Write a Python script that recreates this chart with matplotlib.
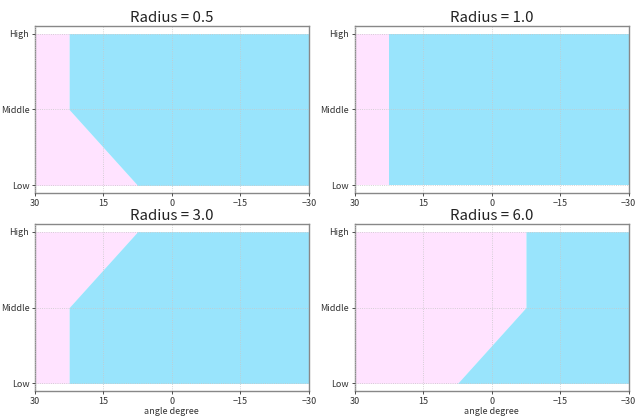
import matplotlib
matplotlib.use("Agg")
import matplotlib.pyplot as plt

plt.rcParams['font.family'] = ['Noto Sans CJK JP', 'DejaVu Sans']

levels = ["Low", "Middle", "High"]
radii = [0.5, 1.0, 3.0, 6.0]
boundaries = {
    0.5: [7.5, 22.5, 22.5],
    1.0: [22.5, 22.5, 22.5],
    3.0: [22.5, 22.5, 7.5],
    6.0: [7.5, -7.5, -7.5],
}
x_ticks = [30, 15, 0, -15, -30]
x_min, x_max = 30, -30

pink = "#FFE3FF"
cyan = "#99E4FC"

fig, axes = plt.subplots(2, 2, figsize=(6.35, 4.16), dpi=100)
fig.subplots_adjust(left=0.055, right=0.99, top=0.9375, bottom=0.06,
                    wspace=0.168, hspace=0.186)

ypos = list(range(len(levels)))
for ax, r in zip(axes.flat, radii):
    b = boundaries[r]
    ax.fill_betweenx(ypos, x_min, b, color=pink, linewidth=0)
    ax.fill_betweenx(ypos, b, x_max, color=cyan, linewidth=0)
    ax.set_xlim(x_min, x_max)
    ax.set_ylim(-0.1, 2.1)
    ax.set_xticks(x_ticks)
    ax.set_xticklabels([f"{t}" if t >= 0 else f"\u2212{abs(t)}" for t in x_ticks])
    ax.set_yticks(ypos)
    ax.set_yticklabels(levels)
    ax.tick_params(labelsize=6.5, length=2.5, width=0.6, colors="#333333", pad=1.5)
    ax.grid(True, linestyle=":", color="#c8c8c8", linewidth=0.6)
    ax.set_axisbelow(False)
    for s in ax.spines.values():
        s.set_color("#888888")
        s.set_linewidth(1.0)
    ax.set_title(f"Radius = {r}", fontsize=10.8, pad=3, color="#222222")

for ax in axes[1]:
    ax.set_xlabel("angle degree", fontsize=6.5, labelpad=1, color="#333333")

fig.savefig("out.png", dpi=100)
